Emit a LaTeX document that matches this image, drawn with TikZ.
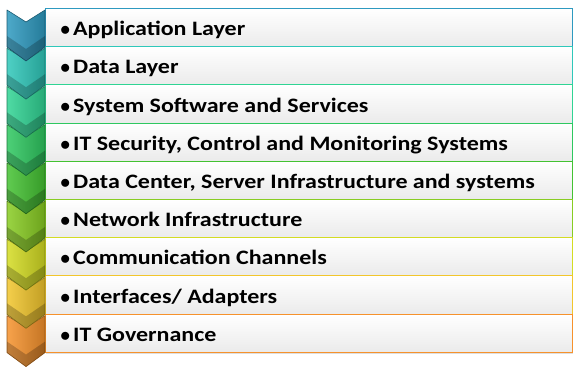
\documentclass[tikz,border=0pt]{standalone}
\usepackage{fontspec}
\setmainfont{Carlito}[FakeStretch = 1.17]
\usepackage{tikz}
\usetikzlibrary{positioning,shadows}

\definecolor{c1}{HTML}{2E9AC0}
\definecolor{c2}{HTML}{2FC8BA}
\definecolor{c3}{HTML}{30D494}
\definecolor{c4}{HTML}{2EC860}
\definecolor{c5}{HTML}{44C232}
\definecolor{c6}{HTML}{88CC22}
\definecolor{c7}{HTML}{D4DC22}
\definecolor{c8}{HTML}{F2C62C}
\definecolor{c9}{HTML}{F6922C}

\tikzset{
  chev/.style = {draw = #1!60!black, line width = 0.6pt, line join = round, left color = #1!85!white, right color = #1!80!black},
  chevdark/.style = {fill = black, fill opacity = 0.22},
  layer/.style = {draw = #1, line width = 1pt, shape = rectangle, anchor = north west, top color = white, bottom color = black!8, minimum width = 527pt, minimum height = 38.2pt, inner sep = 0pt, drop shadow = {shadow xshift = 0pt, shadow yshift = -1.5pt, opacity = 0.25}},
  item/.style = {anchor = base west, inner sep = 0pt, font = \bfseries\fontsize{20.5}{24}\selectfont}
}
\newcommand{\chevronat}[2]{\path[chev = #1] (7,#2+2) -- (26,#2+14) -- (45,#2+2) -- (45,#2+39) -- (26,#2+53) -- (7,#2+39) -- cycle;
  \path[chevdark] (7,#2+28) -- (26,#2+41) -- (45,#2+28) -- (45,#2+39) -- (26,#2+53) -- (7,#2+39) -- cycle;}
\newcommand{\itm}{\makebox[13pt][l]{$\bullet$}}

\begin{document}
\begin{tikzpicture}[x = 1pt, y = -1pt]
\useasboundingbox[fill = white] (0,0) rectangle (574,367);
% layers
\node[layer = c1] (b1) at (45,8) {};
\node[layer = c2] (b2) at (45,46.2) {};
\node[layer = c3] (b3) at (45,84.4) {};
\node[layer = c4] (b4) at (45,122.6) {};
\node[layer = c5] (b5) at (45,160.8) {};
\node[layer = c6] (b6) at (45,199) {};
\node[layer = c7] (b7) at (45,237.2) {};
\node[layer = c8] (b8) at (45,275.4) {};
\node[layer = c9] (b9) at (45,313.6) {};
% chevrons, bottom one first
\chevronat{c9}{313.6}
\chevronat{c8}{275.4}
\chevronat{c7}{237.2}
\chevronat{c6}{199}
\chevronat{c5}{160.8}
\chevronat{c4}{122.6}
\chevronat{c3}{84.4}
\chevronat{c2}{46.2}
\chevronat{c1}{8}
% labels
\node[item] (t1) at ([xshift = 15pt, yshift = -27.6pt] b1.north west) {\itm Application Layer};
\node[item] (t2) at ([xshift = 15pt, yshift = -27.6pt] b2.north west) {\itm Data Layer};
\node[item] (t3) at ([xshift = 15pt, yshift = -27.6pt] b3.north west) {\itm System Software and Services};
\node[item] (t4) at ([xshift = 15pt, yshift = -27.6pt] b4.north west) {\itm IT Security, Control and Monitoring Systems};
\node[item] (t5) at ([xshift = 15pt, yshift = -27.6pt] b5.north west) {\itm Data Center, Server Infrastructure and systems};
\node[item] (t6) at ([xshift = 15pt, yshift = -27.6pt] b6.north west) {\itm Network Infrastructure};
\node[item] (t7) at ([xshift = 15pt, yshift = -27.6pt] b7.north west) {\itm Communication Channels};
\node[item] (t8) at ([xshift = 15pt, yshift = -27.6pt] b8.north west) {\itm Interfaces/ Adapters};
\node[item] (t9) at ([xshift = 15pt, yshift = -27.6pt] b9.north west) {\itm IT Governance};
\end{tikzpicture}
\end{document}
